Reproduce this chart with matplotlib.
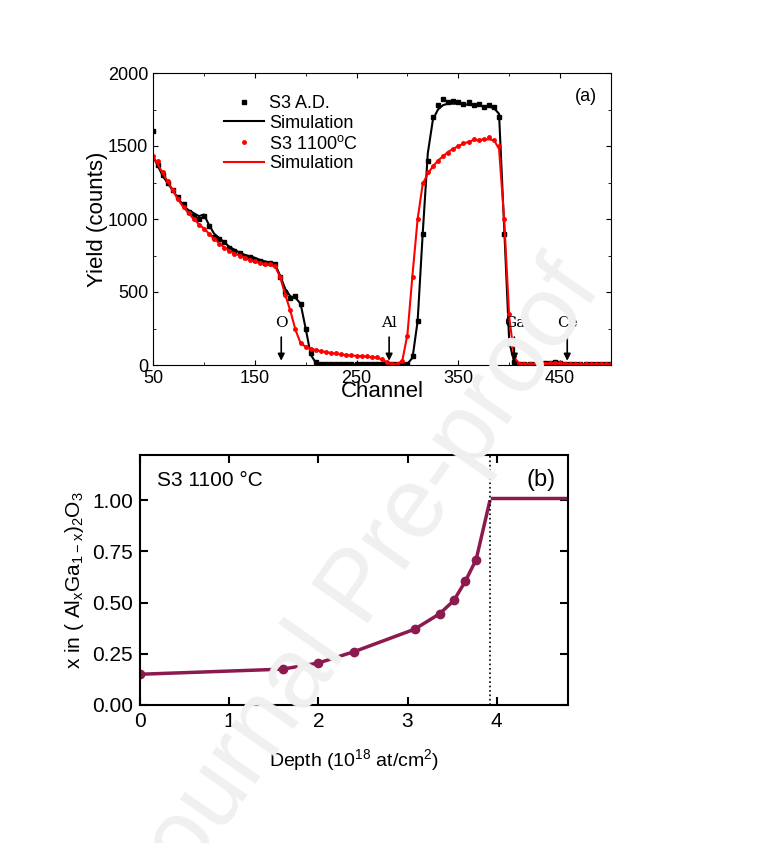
import numpy as np
import matplotlib
matplotlib.use('Agg')
import matplotlib.pyplot as plt
from matplotlib.ticker import MultipleLocator, FixedLocator

plt.rcParams['font.family'] = ['Liberation Sans', 'DejaVu Sans']
plt.rcParams['mathtext.fontset'] = 'custom'
plt.rcParams['mathtext.rm'] = 'Liberation Sans'

# --- panel (a): RBS spectra, channels 50..500 step 5
channel = list(range(50, 505, 5))
ad_data = [1600, 1370, 1300, 1250, 1200, 1150, 1100, 1050, 1020, 1000,
           1020, 950, 880, 860, 840, 800, 780, 770, 740, 740,
           720, 710, 700, 700, 690, 600, 500, 460, 470, 420,
           250, 80, 20, 10, 5, 5, 5, 5, 5, 5,
           5, 5, 5, 5, 5, 5, 5, 5, 5, 5,
           10, 60, 300, 900, 1400, 1700, 1780, 1820, 1800, 1810,
           1800, 1790, 1800, 1780, 1790, 1770, 1780, 1770, 1700, 900,
           150, 20, 8, 8, 8, 8, 10, 12, 15, 20,
           15, 10, 8, 5, 5, 5, 5, 5, 5, 5, 5]
ad_sim = [1430, 1360, 1290, 1240, 1190, 1140, 1090, 1060, 1040, 1020,
          1030, 960, 900, 870, 840, 810, 790, 770, 755, 745,
          735, 720, 710, 700, 690, 610, 520, 470, 460, 420,
          250, 70, 15, 8, 5, 5, 5, 5, 5, 5,
          5, 5, 5, 5, 5, 5, 5, 5, 5, 5,
          8, 50, 300, 900, 1450, 1680, 1750, 1780, 1790, 1790,
          1790, 1790, 1780, 1780, 1780, 1770, 1770, 1760, 1720, 950,
          160, 15, 8, 8, 8, 8, 8, 10, 12, 15,
          12, 8, 5, 5, 5, 5, 5, 5, 5, 5, 5]
an_data = [1430, 1400, 1320, 1260, 1200, 1140, 1080, 1040, 1000, 960,
           930, 900, 860, 830, 800, 780, 760, 750, 730, 720,
           710, 700, 690, 690, 680, 600, 480, 380, 250, 150,
           120, 110, 100, 95, 90, 85, 80, 75, 70, 68,
           65, 62, 60, 58, 55, 40, 20, 5, 5, 30,
           200, 600, 1000, 1250, 1320, 1360, 1400, 1430, 1450, 1480,
           1500, 1520, 1530, 1550, 1540, 1550, 1560, 1540, 1500, 1000,
           350, 60, 10, 8, 8, 8, 8, 10, 12, 15,
           12, 8, 5, 5, 5, 5, 5, 5, 5, 5, 5]
an_sim = [1430, 1370, 1310, 1250, 1190, 1130, 1080, 1040, 1000, 965,
          935, 900, 865, 835, 805, 785, 765, 750, 735, 720,
          710, 700, 690, 685, 675, 600, 480, 370, 240, 150,
          125, 112, 102, 95, 88, 82, 77, 72, 68, 65,
          62, 60, 57, 54, 50, 38, 18, 5, 5, 30,
          210, 620, 1000, 1240, 1310, 1360, 1400, 1430, 1460, 1480,
          1500, 1515, 1530, 1540, 1540, 1545, 1545, 1540, 1480, 1000,
          330, 50, 10, 8, 8, 8, 8, 10, 12, 14,
          12, 8, 5, 5, 5, 5, 5, 5, 5, 5, 5]
edges = {'O': 176, 'Al': 282, 'Ga': 405, 'Ce': 457}

# --- panel (b): Al fraction vs depth
depth = [0.0, 1.6, 2.0, 2.4, 3.08, 3.36, 3.52, 3.65, 3.77]
x_al = [0.15, 0.175, 0.205, 0.26, 0.37, 0.445, 0.51, 0.605, 0.71]
depth_end, x_end = 3.92, 0.99
depth_flat = [3.95, 4.8]
x_flat = [1.01, 1.01]
interface = 3.93

fig = plt.figure(figsize=(7.65, 8.43), dpi=100)
W, H = 765, 843

# watermark
fig.text(0.47, 0.30, 'Journal Pre-proof', fontsize=72, color='#f0f0f0',
         rotation=55, ha='center', va='center', zorder=0)

ax1 = fig.add_axes([153 / W, 1 - 365 / H, (611 - 153) / W, (365 - 73) / H])
ax1.patch.set_alpha(0)
ax1.plot(channel, ad_data, 's', color='black', ms=2.5, label='S3 A.D.')
ax1.plot(channel, ad_sim, '-', color='black', lw=1.5, label='Simulation')
ax1.plot(channel, an_data, 'o', color='red', ms=2.5, label='S3 1100$^\\mathregular{o}$C')
ax1.plot(channel, an_sim, '-', color='red', lw=1.5, label='Simulation')
for name, ch in edges.items():
    ax1.annotate('', xy=(ch, 10), xytext=(ch, 210),
                 arrowprops=dict(arrowstyle='-|>', color='black', lw=1.2))
    ax1.text(ch, 240, name, ha='center', va='bottom', fontsize=11, family='DejaVu Serif')
ax1.set_xlim(50, 500)
ax1.set_ylim(0, 2000)
ax1.xaxis.set_major_locator(FixedLocator([50, 150, 250, 350, 450]))
ax1.xaxis.set_minor_locator(FixedLocator([100, 200, 300, 400, 500]))
ax1.yaxis.set_major_locator(MultipleLocator(500))
ax1.yaxis.set_minor_locator(MultipleLocator(250))
ax1.tick_params(which='both', direction='in', top=True, right=True)
ax1.tick_params(labelsize=13)
ax1.set_xlabel('Channel', fontsize=16, labelpad=-4)
ax1.set_ylabel('Yield (counts)', fontsize=16, labelpad=0)
ax1.text(0.97, 0.95, '(a)', transform=ax1.transAxes, ha='right', va='top', fontsize=13)
ax1.legend(loc='upper left', bbox_to_anchor=(0.12, 0.98), frameon=False,
           fontsize=13, handlelength=2.2, handletextpad=0.3, labelspacing=0.15)

ax2 = fig.add_axes([140 / W, 1 - 705 / H, (568 - 140) / W, (705 - 455) / H])
ax2.patch.set_alpha(0)
col = '#8c1a4f'
ax2.plot(depth + [depth_end], x_al + [x_end], '-', color=col, lw=2.5)
ax2.plot(depth, x_al, 'o', color=col, ms=6)
ax2.plot(depth_flat, x_flat, '-', color=col, lw=2.5)
ax2.axvline(interface, color='black', ls=':', lw=1.2)
ax2.set_xlim(0, 4.8)
ax2.set_ylim(0, 1.22)
ax2.set_xticks([0, 1, 2, 3, 4])
ax2.set_yticks([0, 0.25, 0.5, 0.75, 1.0])
ax2.set_yticklabels(['0.00', '0.25', '0.50', '0.75', '1.00'])
ax2.tick_params(direction='in', top=True, right=True, length=6, width=1.5, labelsize=15, pad=5)
for s in ax2.spines.values():
    s.set_linewidth(1.5)
ax2.set_xlabel('Depth (10$^\\mathregular{18}$ at/cm$^\\mathregular{2}$)', fontsize=14, labelpad=12)
ax2.set_ylabel('x in ( Al$_\\mathregular{x}$Ga$_\\mathregular{1-x}$)$_\\mathregular{2}$O$_\\mathregular{3}$',
               fontsize=15)
ax2.text(0.04, 0.9, 'S3 1100 °C', transform=ax2.transAxes, fontsize=15, va='center')
ax2.text(0.97, 0.9, '(b)', transform=ax2.transAxes, fontsize=17, ha='right', va='center')

fig.savefig('out.png', dpi=100)
